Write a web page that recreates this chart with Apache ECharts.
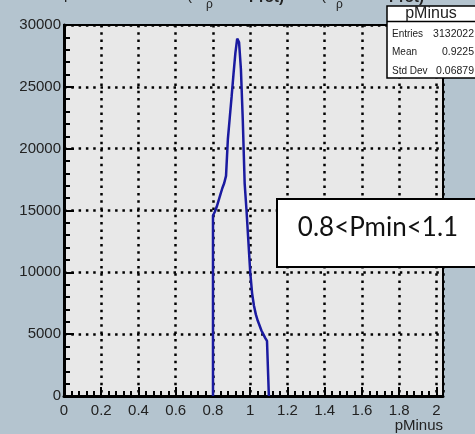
<!DOCTYPE html>
<html>
<head>
<meta charset="utf-8">
<script src="https://cdn.jsdelivr.net/npm/echarts@6/dist/echarts.min.js"></script>
<style>
html,body{margin:0;padding:0;background:#b4c4cf;}
#c{width:475px;height:434px;}
</style>
</head>
<body>
<div id="c"></div>
<script>
// pMinus bin positions and counts
const pMinus = [0.80,0.80,0.81,0.82,0.83,0.84,0.85,0.86,0.87,0.88,0.89,0.90,0.91,0.92,0.93,0.94,0.95,0.96,0.97,0.98,0.99,1.00,1.01,1.02,1.03,1.04,1.05,1.06,1.07,1.08,1.09,1.10,1.10];
const counts = [0,14600,14900,15300,15800,16300,16800,17200,17800,20800,22500,24200,26000,27700,28900,28600,26400,22300,17200,15000,12500,10000,8300,7300,6600,6100,5700,5300,5000,4700,4450,4300,0];
const xTicks = [0,0.2,0.4,0.6,0.8,1,1.2,1.4,1.6,1.8,2];
const yTicks = [0,5000,10000,15000,20000,25000,30000];
const statName = 'pMinus';
const statLabels = ['Entries','Mean','Std Dev'];
const statValues = ['3132022','0.9225','0.06879'];
const noteText = '0.8<Pmin<1.1';
const xTitle = 'pMinus';

const chart = echarts.init(document.getElementById('c'), null, {renderer:'canvas'});
const FONT = '"Liberation Sans", Arial, sans-serif';
const dot = {color:'#000', width:2.5, type:[2.5,4.8], cap:'butt'};
const data = pMinus.map((x,i)=>[x,counts[i]]);
const txt = (text,x,y,font,align,fill)=>({type:'text',silent:true,z:11,style:{text:text,x:x,y:y,font:font,fill:fill||'#222',align:align,verticalAlign:'middle'}});

chart.setOption({
  backgroundColor:'#b4c4cf',
  animation:false,
  grid:{left:64,right:32,top:25,bottom:38,show:true,backgroundColor:'#e8e8e8',borderColor:'#000',borderWidth:2,containLabel:false},
  xAxis:{
    type:'value', min:xTicks[0], max:2.035, interval:0.2,
    axisLine:{show:true,onZero:false,lineStyle:{color:'#000',width:3}},
    axisTick:{show:true,inside:true,length:9,lineStyle:{color:'#000',width:2}},
    minorTick:{show:true,splitNumber:5,length:5,lineStyle:{color:'#000',width:2}},
    splitLine:{show:true,lineStyle:dot},
    axisLabel:{color:'#222',fontSize:15,fontFamily:FONT,margin:7,showMaxLabel:false,
      formatter:v=>xTicks.some(t=>Math.abs(t-v)<1e-6)?String(+v.toFixed(1)):''},
    name:xTitle, nameLocation:'end', nameGap:0,
    nameTextStyle:{color:'#222',fontSize:15,fontFamily:FONT,align:'right',verticalAlign:'top',padding:[22,0,0,0]}
  },
  yAxis:{
    type:'value', min:yTicks[0], max:yTicks[yTicks.length-1], interval:5000,
    axisLine:{show:true,onZero:false,lineStyle:{color:'#000',width:3}},
    axisTick:{show:true,inside:true,length:10,lineStyle:{color:'#000',width:2}},
    minorTick:{show:true,splitNumber:5,length:6,lineStyle:{color:'#000',width:2}},
    splitLine:{show:true,lineStyle:dot},
    axisLabel:{color:'#222',fontSize:15,fontFamily:FONT,margin:3,formatter:v=>String(v)}
  },
  series:[{
    type:'line', data:data, symbol:'none', smooth:false,
    lineStyle:{color:'#1a1aa0',width:2.5}, z:5
  }],
  graphic:[
    // partially cut-off title pieces
    txt('p',64,-5,'15px '+FONT,'left'),
    txt('(',187,-4,'15px '+FONT,'left'),
    txt('ρ',206,5,'12px '+FONT,'left'),
    txt('Prot)',249,-2,'bold 15px '+FONT,'left'),
    txt('(',321,-4,'15px '+FONT,'left'),
    txt('ρ',336,5,'12px '+FONT,'left'),
    txt('Prot)',389,-2,'bold 15px '+FONT,'left'),
    // stat box
    {type:'rect',z:10,shape:{x:387,y:6,width:100,height:72},style:{fill:'#fff',stroke:'#000',lineWidth:1.5}},
    {type:'line',z:11,shape:{x1:387,y1:21.5,x2:476,y2:21.5},style:{stroke:'#000',lineWidth:1.5}},
    txt(statName,431,14,'16px '+FONT,'center'),
    ...statLabels.map((t,i)=>txt(t,392,34+i*18.5,'10px '+FONT,'left')),
    ...statValues.map((t,i)=>txt(t,474,34+i*18.5,'10.5px '+FONT,'right')),
    // note box
    {type:'rect',z:10,shape:{x:277,y:199,width:210,height:68},style:{fill:'#fff',stroke:'#000',lineWidth:2}},
    txt(noteText,378,228,'26px Lato, "Open Sans", sans-serif','center','#111')
  ]
});
</script>
</body>
</html>
